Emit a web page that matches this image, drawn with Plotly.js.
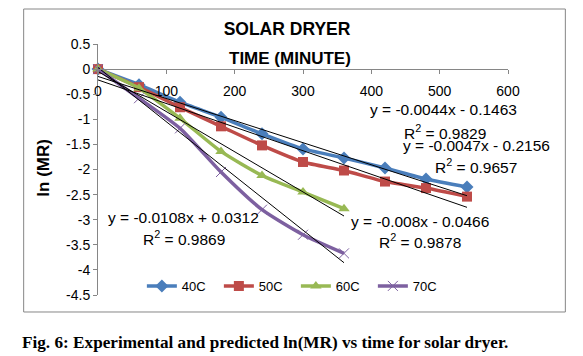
<!DOCTYPE html>
<html>
<head>
<meta charset="utf-8">
<script src="https://cdn.plot.ly/plotly-3.0.1.min.js"></script>
<style>html,body{margin:0;padding:0;background:#fff;}#chart{width:583px;height:356px;}</style>
</head>
<body>
<div id="chart"></div>
<script>
// ---- data ----
const seriesNames = ['40C', '50C', '60C', '70C'];
const time = [0, 60, 120, 180, 240, 300, 360, 420, 480, 540];
const time6070 = [0, 60, 120, 180, 240, 300, 360];
const ln40 = [0, -0.31, -0.66, -0.96, -1.29, -1.59, -1.77, -1.97, -2.19, -2.35];
const ln50 = [0, -0.36, -0.76, -1.14, -1.52, -1.85, -2.02, -2.24, -2.37, -2.54];
const ln60 = [0, -0.38, -0.98, -1.64, -2.12, -2.45, -2.78];
const ln70 = [0, -0.58, -1.18, -2.05, -2.80, -3.30, -3.67];
const trendSlope = [-0.0044, -0.0047, -0.008, -0.0108];
const trendIntercept = [-0.1463, -0.2156, -0.0466, 0.0312];
const trendR2 = ['0.9829', '0.9657', '0.9878', '0.9869'];
const xTicks = [0, 100, 200, 300, 400, 500, 600];
const yTickVals = [0.5, 0, -0.5, -1, -1.5, -2, -2.5, -3, -3.5, -4, -4.5];
const yTickText = ['0.5', '0', '-0.5', '-1', '-1.5', '-2', '-2.5', '-3', '-3.5', '-4', '-4.5'];

// ---- styling ----
const colors = ['#4A7EBB', '#BE4B48', '#98B954', '#7D60A0'];
const symbols = ['diamond', 'square', 'triangle-up', 'x-thin'];
const xs = [time, time, time6070, time6070];
const ys = [ln40, ln50, ln60, ln70];
const FONT = '"Liberation Sans", Arial, sans-serif';

const traces = [];
for (let i = 0; i < 4; i++) {
  traces.push({
    type: 'scatter', mode: 'lines+markers', name: seriesNames[i],
    x: xs[i], y: ys[i], cliponaxis: false,
    line: {color: colors[i], width: 3.5, shape: 'spline', smoothing: 0.6},
    marker: i === 3
      ? {symbol: symbols[i], size: 10, color: colors[i], line: {color: colors[i], width: 1}}
      : {symbol: symbols[i], size: 10, color: colors[i], line: {width: 0}}
  });
}
for (let i = 0; i < 4; i++) {
  const x0 = xs[i][0], x1 = xs[i][xs[i].length - 1];
  traces.push({
    type: 'scatter', mode: 'lines', showlegend: false, hoverinfo: 'skip',
    x: [x0, x1], y: [trendSlope[i] * x0 + trendIntercept[i], trendSlope[i] * x1 + trendIntercept[i]],
    line: {color: '#000', width: 1}, cliponaxis: false
  });
}

function eqText(i) {
  const b = trendIntercept[i];
  return 'y = ' + trendSlope[i] + 'x ' + (b < 0 ? '- ' : '+ ') + Math.abs(b);
}
// label positions (data coords) for each trendline: [eqX, eqY, r2X, r2Y]
const labelPos = [
  [505.8, -0.81, 507.3, -1.243],
  [553.6, -1.522, 553.6, -1.926],
  [470.8, -3.036, 471.8, -3.434],
  [124.5, -2.948, 125.3, -3.355]
];
const annotations = [];
for (let i = 0; i < 4; i++) {
  const p = labelPos[i];
  annotations.push({x: p[0], y: p[1], xref: 'x', yref: 'y', text: eqText(i), showarrow: false,
    xanchor: 'center', yanchor: 'middle', borderpad: 0, font: {family: FONT, size: 15.5, color: '#000'}});
  annotations.push({x: p[2], y: p[3], xref: 'x', yref: 'y', text: 'R<sup>2</sup> = ' + trendR2[i], showarrow: false,
    xanchor: 'center', yanchor: 'middle', borderpad: 0, font: {family: FONT, size: 15.5, color: '#000'}});
}
// x-axis title (drawn above the plot, as in the reference)
annotations.push({x: 0.468, y: 0.944, xref: 'paper', yref: 'paper', text: '<b>TIME (MINUTE)</b>', showarrow: false,
  xanchor: 'center', yanchor: 'middle', font: {family: FONT, size: 17, color: '#000'}});
// y-axis title
annotations.push({x: -0.1326, y: 0.506, xref: 'paper', yref: 'paper', text: '<b>ln (MR)</b>', showarrow: false,
  textangle: -90, xanchor: 'center', yanchor: 'middle', font: {family: FONT, size: 17, color: '#000'}});
// caption
annotations.push({x: 0.4063, y: -0.19, xref: 'paper', yref: 'paper',
  text: '<b>Fig. 6: Experimental and predicted ln(MR) vs time for solar dryer.</b>', showarrow: false,
  xanchor: 'center', yanchor: 'middle', font: {family: '"Liberation Serif", "Times New Roman", serif', size: 17.2, color: '#000'}});

const layout = {
  width: 583, height: 356,
  margin: {l: 97.5, r: 74.5, t: 44, b: 61, pad: 0},
  paper_bgcolor: '#fff', plot_bgcolor: 'rgba(0,0,0,0)',
  font: {family: FONT, color: '#000'},
  title: {text: '<b>SOLAR DRYER</b>', x: 0.4923, y: 0.9185, xref: 'container', yref: 'container',
    xanchor: 'center', yanchor: 'middle', font: {family: FONT, size: 17.5, color: '#000'}},
  xaxis: {range: [0, 600], tickvals: xTicks, ticktext: xTicks.map(String), showgrid: false, zeroline: false,
    showline: true, linecolor: '#868686', linewidth: 1, ticks: 'outside', ticklen: 4, tickcolor: '#868686',
    anchor: 'free', position: 0.9, ticklabelstandoff: 5, tickfont: {family: FONT, size: 14, color: '#000'}},
  yaxis: {range: [-4.5, 0.5], tickvals: yTickVals, ticktext: yTickText, showgrid: false, zeroline: false,
    showline: true, linecolor: '#868686', linewidth: 1, ticks: 'outside', ticklen: 4, tickcolor: '#868686',
    tickfont: {family: FONT, size: 14, color: '#000'}},
  legend: {orientation: 'h', x: 0.107, y: 0.036, xanchor: 'left', yanchor: 'middle', bgcolor: 'rgba(0,0,0,0)',
    font: {family: FONT, size: 13, color: '#000'}, itemwidth: 30, entrywidth: 32, entrywidthmode: 'pixels'},
  shapes: [{type: 'rect', xref: 'paper', yref: 'paper', x0: -0.1813, x1: 1.1399, y0: -0.0677, y1: 1.1394,
    line: {color: '#868686', width: 1}, fillcolor: 'rgba(0,0,0,0)', layer: 'below'}],
  annotations: annotations,
  showlegend: true
};
Plotly.newPlot('chart', traces, layout, {displayModeBar: false, staticPlot: true});
</script>
</body>
</html>
